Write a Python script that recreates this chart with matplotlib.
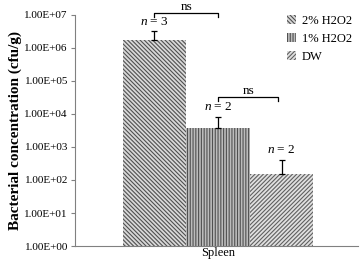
import numpy as np
import matplotlib.pyplot as plt
import matplotlib as mpl

plt.rcParams['font.family'] = ['Liberation Serif', 'DejaVu Serif']
plt.rcParams['mathtext.fontset'] = 'custom'
plt.rcParams['mathtext.rm'] = 'Liberation Serif'
plt.rcParams['mathtext.it'] = 'Liberation Serif:italic'
mpl.rcParams['hatch.linewidth'] = 0.8

# data
groups = ["2% H2O2", "1% H2O2", "DW"]
values = [1.7e6, 3.7e3, 150]
err_up = [1.5e6, 4.3e3, 250]
n_labels = ["$n$ = 3", "$n$ = 2", "$n$ = 2"]
category = "Spleen"
ytick_vals = [1e0, 1e1, 1e2, 1e3, 1e4, 1e5, 1e6, 1e7]
ytick_labels = ["1.00E+00", "1.00E+01", "1.00E+02", "1.00E+03",
                "1.00E+04", "1.00E+05", "1.00E+06", "1.00E+07"]

hatches = ['\\\\\\\\\\\\\\\\', '||||||', '////////']
faces = ['#d8d8d8', '#bcbcbc', '#e0e0e0']
hcolors = ['#505050', '#505050', '#606060']

fig = plt.figure(figsize=(3.6, 2.62), dpi=100)
ax = fig.add_axes([0.208, 0.061, 0.786, 0.882])

x = np.array([-1.0, 0.0, 1.0])
for i in range(3):
    b = ax.bar(x[i], values[i], width=1.0, bottom=1, color=faces[i],
               edgecolor=hcolors[i], hatch=hatches[i], linewidth=0,
               label=groups[i])
    ax.errorbar(x[i], values[i], yerr=[[0], [err_up[i]]], fmt='none',
                ecolor='black', elinewidth=0.9, capsize=2.5, capthick=0.9)
    top = values[i] + err_up[i]
    ax.text(x[i], top * 1.3, n_labels[i], ha='center', va='bottom', fontsize=9.5)

ax.set_yscale('log')
ax.set_ylim(1, 1e7)
ax.set_xlim(-2.25, 2.2)
ax.set_yticks(ytick_vals)
ax.set_yticklabels(ytick_labels, fontsize=8)
ax.minorticks_off()
ax.set_xticks([0])
ax.set_xticklabels([category], fontsize=9)
ax.tick_params(axis='x', length=0, pad=1)
ax.tick_params(axis='y', length=3, color='#808080', pad=2)
ax.set_ylabel("Bacterial concentration (cfu/g)", fontsize=11,
              fontweight='bold', labelpad=2)

for s in ['top', 'right']:
    ax.spines[s].set_visible(False)
for s in ['left', 'bottom']:
    ax.spines[s].set_color('#808080')

# ns brackets
def bracket(x0, x1, y, tick):
    ax.plot([x0, x0, x1, x1], [y / tick, y, y, y / tick], color='black',
            lw=0.9, clip_on=False)
    ax.text((x0 + x1) / 2, y * 1.03, "ns", ha='center', va='bottom', fontsize=9.5)

bracket(-1.0, 0.0, 1.15e7, 1.3)
bracket(0.0, 0.95, 3.2e4, 1.3)

ax.legend(loc='upper right', bbox_to_anchor=(1.02, 1.05), frameon=False,
          fontsize=9, handlelength=0.7, handleheight=0.7, handletextpad=0.5,
          labelspacing=0.5)

fig.savefig("out.png", dpi=100)
